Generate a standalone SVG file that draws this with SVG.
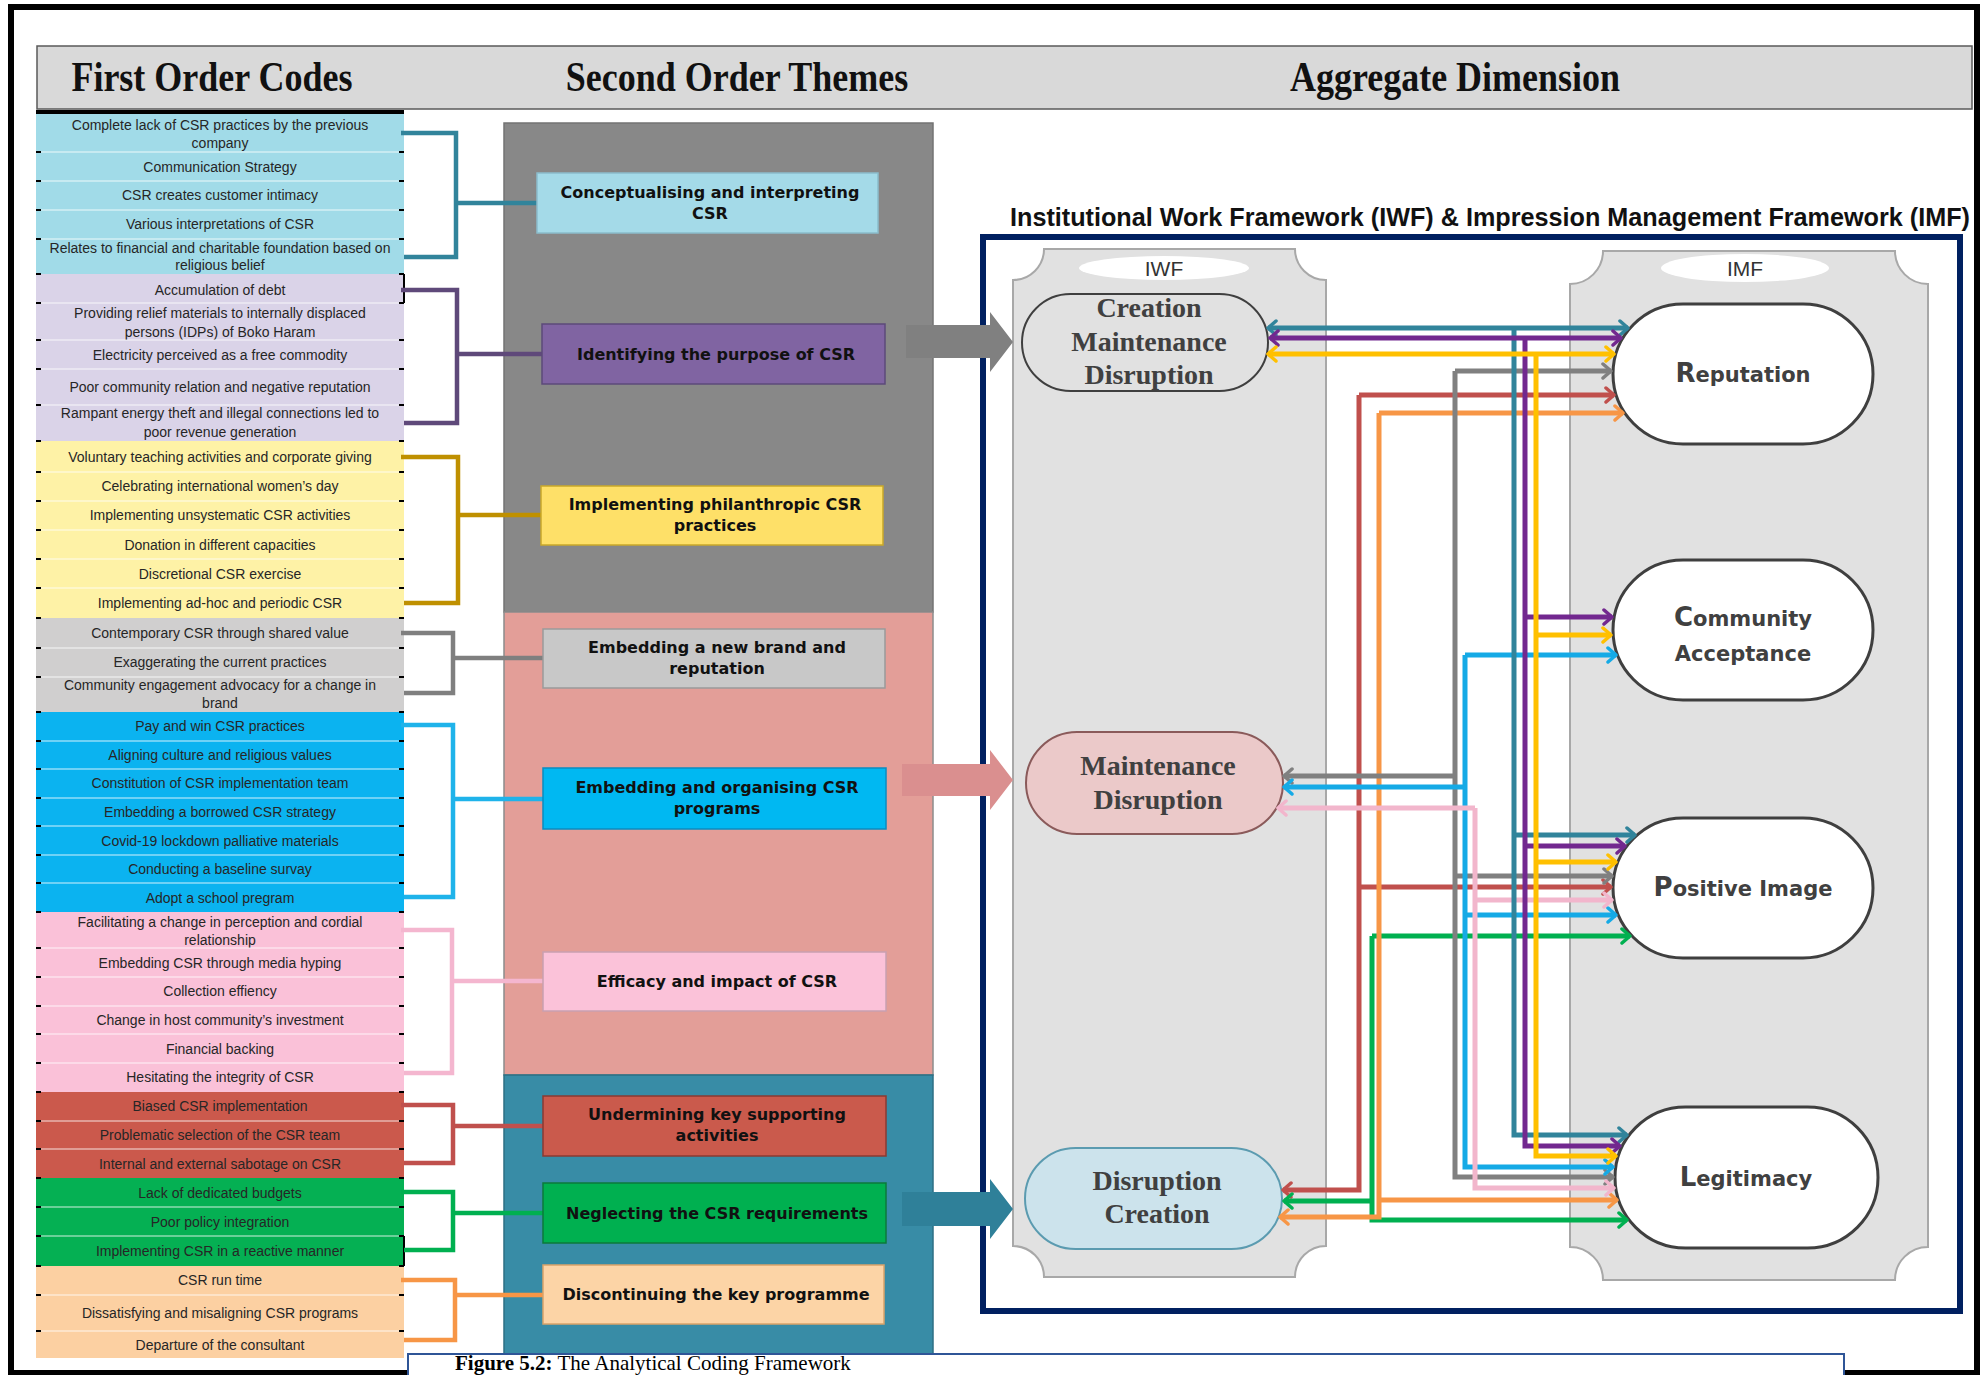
<svg xmlns="http://www.w3.org/2000/svg" width="1988" height="1375" viewBox="0 0 1988 1375">
<defs>
<style>
.fo{font-family:"Liberation Sans",Arial,sans-serif;font-size:14px;fill:#262626;text-anchor:middle}
.so{font-family:"DejaVu Sans",Verdana,sans-serif;font-size:16px;font-weight:bold;fill:#111;text-anchor:middle}
.hd{font-family:"Liberation Serif","Times New Roman",serif;font-size:36px;font-weight:bold;fill:#111;text-anchor:middle}
.iw{font-family:"Liberation Serif","Times New Roman",serif;font-size:28px;font-weight:bold;fill:#404040;text-anchor:middle}
.im{font-family:"DejaVu Sans",Verdana,sans-serif;font-size:21px;font-weight:bold;fill:#404040;text-anchor:middle}
.big{font-size:26px}
.lab{font-family:"Liberation Sans",Arial,sans-serif;font-size:21px;fill:#333;text-anchor:middle}
.br{fill:none;stroke-width:4.5}
.cn{fill:none;stroke-width:5}
.sep{stroke:#ffffff;stroke-opacity:0.55;stroke-width:1.5}
.tk{stroke:#000;stroke-width:2;fill:none}
.node2{stroke-width:1.5}
.imn{fill:#fff;stroke:#3f3f3f;stroke-width:3}
.pan{fill:#e1e1e1;stroke:#a8a8a8;stroke-width:2}
</style>
<marker id="m-teal" viewBox="0 0 12 18" refX="10" refY="9" markerWidth="12" markerHeight="18" markerUnits="userSpaceOnUse" orient="auto-start-reverse"><path d="M2,2 L10,9 L2,16" fill="none" stroke="#31849b" stroke-width="3.5" stroke-linecap="round" stroke-linejoin="round"/></marker>
<marker id="m-purple" viewBox="0 0 12 18" refX="10" refY="9" markerWidth="12" markerHeight="18" markerUnits="userSpaceOnUse" orient="auto-start-reverse"><path d="M2,2 L10,9 L2,16" fill="none" stroke="#72288f" stroke-width="3.5" stroke-linecap="round" stroke-linejoin="round"/></marker>
<marker id="m-yellow" viewBox="0 0 12 18" refX="10" refY="9" markerWidth="12" markerHeight="18" markerUnits="userSpaceOnUse" orient="auto-start-reverse"><path d="M2,2 L10,9 L2,16" fill="none" stroke="#ffc000" stroke-width="3.5" stroke-linecap="round" stroke-linejoin="round"/></marker>
<marker id="m-gray" viewBox="0 0 12 18" refX="10" refY="9" markerWidth="12" markerHeight="18" markerUnits="userSpaceOnUse" orient="auto-start-reverse"><path d="M2,2 L10,9 L2,16" fill="none" stroke="#808080" stroke-width="3.5" stroke-linecap="round" stroke-linejoin="round"/></marker>
<marker id="m-red" viewBox="0 0 12 18" refX="10" refY="9" markerWidth="12" markerHeight="18" markerUnits="userSpaceOnUse" orient="auto-start-reverse"><path d="M2,2 L10,9 L2,16" fill="none" stroke="#c0504d" stroke-width="3.5" stroke-linecap="round" stroke-linejoin="round"/></marker>
<marker id="m-orange" viewBox="0 0 12 18" refX="10" refY="9" markerWidth="12" markerHeight="18" markerUnits="userSpaceOnUse" orient="auto-start-reverse"><path d="M2,2 L10,9 L2,16" fill="none" stroke="#f79646" stroke-width="3.5" stroke-linecap="round" stroke-linejoin="round"/></marker>
<marker id="m-blue" viewBox="0 0 12 18" refX="10" refY="9" markerWidth="12" markerHeight="18" markerUnits="userSpaceOnUse" orient="auto-start-reverse"><path d="M2,2 L10,9 L2,16" fill="none" stroke="#15aae6" stroke-width="3.5" stroke-linecap="round" stroke-linejoin="round"/></marker>
<marker id="m-pink" viewBox="0 0 12 18" refX="10" refY="9" markerWidth="12" markerHeight="18" markerUnits="userSpaceOnUse" orient="auto-start-reverse"><path d="M2,2 L10,9 L2,16" fill="none" stroke="#f2b6cc" stroke-width="3.5" stroke-linecap="round" stroke-linejoin="round"/></marker>
<marker id="m-green" viewBox="0 0 12 18" refX="10" refY="9" markerWidth="12" markerHeight="18" markerUnits="userSpaceOnUse" orient="auto-start-reverse"><path d="M2,2 L10,9 L2,16" fill="none" stroke="#00b050" stroke-width="3.5" stroke-linecap="round" stroke-linejoin="round"/></marker>
</defs>

<rect x="0" y="0" width="1988" height="1375" fill="#ffffff"/>

<!-- header -->
<g id="header">
<rect x="37" y="46" width="1935" height="63" fill="#d9d9d9" stroke="#5a5a5a" stroke-width="1.5"/>
<g transform="translate(0,91) scale(1,1.15)">
<text class="hd" x="212" y="0">First Order Codes</text>
<text class="hd" x="737" y="0">Second Order Themes</text>
<text class="hd" x="1455" y="0">Aggregate Dimension</text>
</g>
</g>

<!-- first order codes -->
<g id="first-order">
<g id="fo-c1"><rect x="36" y="113" width="368" height="39" fill="#a1dbe8"/><text class="fo" x="220" y="130">Complete lack of CSR practices by the previous</text><text class="fo" x="220" y="148">company</text></g>
<g id="fo-c2"><rect x="36" y="152" width="368" height="29" fill="#a1dbe8"/><text class="fo" x="220" y="171.5">Communication Strategy</text></g>
<g id="fo-c3"><rect x="36" y="181" width="368" height="29" fill="#a1dbe8"/><text class="fo" x="220" y="200">CSR creates customer intimacy</text></g>
<g id="fo-c4"><rect x="36" y="210" width="368" height="29" fill="#a1dbe8"/><text class="fo" x="220" y="229">Various interpretations of CSR</text></g>
<g id="fo-c5"><rect x="36" y="239" width="368" height="35" fill="#a1dbe8"/><text class="fo" x="220" y="253">Relates to financial and charitable foundation based on</text><text class="fo" x="220" y="270">religious belief</text></g>

<g id="fo-p1"><rect x="36" y="274" width="368" height="29" fill="#dad3e8"/><text class="fo" x="220" y="295">Accumulation of debt</text></g>
<g id="fo-p2"><rect x="36" y="303" width="368" height="37" fill="#dad3e8"/><text class="fo" x="220" y="318">Providing relief materials to internally displaced</text><text class="fo" x="220" y="336.5">persons (IDPs) of Boko Haram</text></g>
<g id="fo-p3"><rect x="36" y="340" width="368" height="29" fill="#dad3e8"/><text class="fo" x="220" y="360">Electricity perceived as a free commodity</text></g>
<g id="fo-p4"><rect x="36" y="369" width="368" height="36" fill="#dad3e8"/><text class="fo" x="220" y="391.5">Poor community relation and negative reputation</text></g>
<g id="fo-p5"><rect x="36" y="405" width="368" height="36" fill="#dad3e8"/><text class="fo" x="220" y="418">Rampant energy theft and illegal connections led to</text><text class="fo" x="220" y="436.5">poor revenue generation</text></g>

<g id="fo-y1"><rect x="36" y="441" width="368" height="31" fill="#fef2a6"/><text class="fo" x="220" y="461.5">Voluntary teaching activities and corporate giving</text></g>
<g id="fo-y2"><rect x="36" y="472" width="368" height="29" fill="#fef2a6"/><text class="fo" x="220" y="491">Celebrating international women’s day</text></g>
<g id="fo-y3"><rect x="36" y="501" width="368" height="29" fill="#fef2a6"/><text class="fo" x="220" y="520">Implementing unsystematic CSR activities</text></g>
<g id="fo-y4"><rect x="36" y="530" width="368" height="29" fill="#fef2a6"/><text class="fo" x="220" y="549.5">Donation in different capacities</text></g>
<g id="fo-y5"><rect x="36" y="559" width="368" height="29" fill="#fef2a6"/><text class="fo" x="220" y="579">Discretional CSR exercise</text></g>
<g id="fo-y6"><rect x="36" y="588" width="368" height="30" fill="#fef2a6"/><text class="fo" x="220" y="608">Implementing ad-hoc and periodic CSR</text></g>

<g id="fo-g1"><rect x="36" y="618" width="368" height="30" fill="#d0cfcf"/><text class="fo" x="220" y="637.5">Contemporary CSR through shared value</text></g>
<g id="fo-g2"><rect x="36" y="648" width="368" height="29" fill="#d0cfcf"/><text class="fo" x="220" y="666.5">Exaggerating the current practices</text></g>
<g id="fo-g3"><rect x="36" y="677" width="368" height="35" fill="#d0cfcf"/><text class="fo" x="220" y="690">Community engagement advocacy for a change in</text><text class="fo" x="220" y="707.5">brand</text></g>

<g id="fo-b1"><rect x="36" y="712" width="368" height="29" fill="#0bb3f0"/><text class="fo" x="220" y="731">Pay and win CSR practices</text></g>
<g id="fo-b2"><rect x="36" y="741" width="368" height="28" fill="#0bb3f0"/><text class="fo" x="220" y="760">Aligning culture and religious values</text></g>
<g id="fo-b3"><rect x="36" y="769" width="368" height="29" fill="#0bb3f0"/><text class="fo" x="220" y="788">Constitution of CSR implementation team</text></g>
<g id="fo-b4"><rect x="36" y="798" width="368" height="28" fill="#0bb3f0"/><text class="fo" x="220" y="817">Embedding a borrowed CSR strategy</text></g>
<g id="fo-b5"><rect x="36" y="826" width="368" height="29" fill="#0bb3f0"/><text class="fo" x="220" y="845.5">Covid-19 lockdown palliative materials</text></g>
<g id="fo-b6"><rect x="36" y="855" width="368" height="28" fill="#0bb3f0"/><text class="fo" x="220" y="874">Conducting a baseline survay</text></g>
<g id="fo-b7"><rect x="36" y="883" width="368" height="29" fill="#0bb3f0"/><text class="fo" x="220" y="902.5">Adopt a school pregram</text></g>

<g id="fo-k1"><rect x="36" y="912" width="368" height="36" fill="#fac1d8"/><text class="fo" x="220" y="926.5">Facilitating a change in perception and cordial</text><text class="fo" x="220" y="945">relationship</text></g>
<g id="fo-k2"><rect x="36" y="948" width="368" height="29" fill="#fac1d8"/><text class="fo" x="220" y="967.5">Embedding CSR through media hyping</text></g>
<g id="fo-k3"><rect x="36" y="977" width="368" height="29" fill="#fac1d8"/><text class="fo" x="220" y="996">Collection effiency</text></g>
<g id="fo-k4"><rect x="36" y="1006" width="368" height="28" fill="#fac1d8"/><text class="fo" x="220" y="1025">Change in host community’s investment</text></g>
<g id="fo-k5"><rect x="36" y="1034" width="368" height="29" fill="#fac1d8"/><text class="fo" x="220" y="1054">Financial backing</text></g>
<g id="fo-k6"><rect x="36" y="1063" width="368" height="29" fill="#fac1d8"/><text class="fo" x="220" y="1081.5">Hesitating the integrity of CSR</text></g>

<g id="fo-r1"><rect x="36" y="1092" width="368" height="29" fill="#cb594c"/><text class="fo" x="220" y="1111">Biased CSR implementation</text></g>
<g id="fo-r2"><rect x="36" y="1121" width="368" height="28" fill="#cb594c"/><text class="fo" x="220" y="1140">Problematic selection of the CSR team</text></g>
<g id="fo-r3"><rect x="36" y="1149" width="368" height="29" fill="#cb594c"/><text class="fo" x="220" y="1169">Internal and external sabotage on CSR</text></g>

<g id="fo-n1"><rect x="36" y="1178" width="368" height="29" fill="#05b053"/><text class="fo" x="220" y="1197.5">Lack of dedicated budgets</text></g>
<g id="fo-n2"><rect x="36" y="1207" width="368" height="29" fill="#05b053"/><text class="fo" x="220" y="1226.5">Poor policy integration</text></g>
<g id="fo-n3"><rect x="36" y="1236" width="368" height="30" fill="#05b053"/><text class="fo" x="220" y="1256">Implementing CSR in a reactive manner</text></g>

<g id="fo-o1"><rect x="36" y="1266" width="368" height="29" fill="#fcd0a2"/><text class="fo" x="220" y="1285">CSR run time</text></g>
<g id="fo-o2"><rect x="36" y="1295" width="368" height="36" fill="#fcd0a2"/><text class="fo" x="220" y="1317.5">Dissatisfying and misaligning CSR programs</text></g>
<g id="fo-o3"><rect x="36" y="1331" width="368" height="27" fill="#fcd0a2"/><text class="fo" x="220" y="1350">Departure of the consultant</text></g>

<path class="sep" d="M36,152H404M36,181H404M36,210H404M36,239H404M36,303H404M36,340H404M36,369H404M36,405H404M36,472H404M36,501H404M36,530H404M36,559H404M36,588H404M36,648H404M36,677H404M36,741H404M36,769H404M36,798H404M36,826H404M36,855H404M36,883H404M36,948H404M36,977H404M36,1006H404M36,1034H404M36,1063H404M36,1121H404M36,1149H404M36,1207H404M36,1236H404M36,1295H404M36,1331H404"/>
<path class="tk" d="M36,152h5M399,152h5M36,181h5M399,181h5M36,210h5M399,210h5M36,239h5M399,239h5M36,274h5M399,274h5M36,303h5M399,303h5M36,340h5M399,340h5M36,369h5M399,369h5M36,405h5M399,405h5M36,441h5M399,441h5M36,472h5M399,472h5M36,501h5M399,501h5M36,530h5M399,530h5M36,559h5M399,559h5M36,588h5M399,588h5M36,618h5M399,618h5M36,648h5M399,648h5M36,677h5M399,677h5M36,712h5M399,712h5M36,741h5M399,741h5M36,769h5M399,769h5M36,798h5M399,798h5M36,826h5M399,826h5M36,855h5M399,855h5M36,883h5M399,883h5M36,912h5M399,912h5M36,948h5M399,948h5M36,977h5M399,977h5M36,1006h5M399,1006h5M36,1034h5M399,1034h5M36,1063h5M399,1063h5M36,1092h5M399,1092h5M36,1121h5M399,1121h5M36,1149h5M399,1149h5M36,1178h5M399,1178h5M36,1207h5M399,1207h5M36,1236h5M399,1236h5M36,1266h5M399,1266h5M36,1295h5M399,1295h5M36,1331h5M399,1331h5M404,274V303M404,1236V1266"/>
<line x1="36" y1="112" x2="404" y2="112" stroke="#000" stroke-width="4"/>
</g>

<!-- second order panel -->
<g id="second-order-panel">
<rect x="504" y="123" width="429" height="489" fill="#888888" stroke="#737373" stroke-width="1.5"/>
<rect x="504" y="612" width="429" height="463" fill="#e39e98" stroke="#8c8c8c" stroke-width="1.5"/>
<rect x="504" y="1075" width="429" height="310" fill="#388ca6" stroke="#2d6f84" stroke-width="1.5"/>
</g>

<!-- bracket connectors -->
<g id="brackets">
<path class="br" stroke="#31849b" d="M401,133H456V257H404M456,203H537"/>
<path class="br" stroke="#5f497a" d="M401,290H457V423H404M457,354H542"/>
<path class="br" stroke="#bf9000" d="M401,457H458V603H404M458,515H541"/>
<path class="br" stroke="#7f7f7f" d="M401,633H453V693H404M453,658H543"/>
<path class="br" stroke="#1fb3ea" d="M401,725H453V897H404M453,799H543"/>
<path class="br" stroke="#f4b6cf" d="M401,930H452V1073H404M452,981H543"/>
<path class="br" stroke="#c0504d" d="M401,1105H453V1163H404M453,1126H543"/>
<path class="br" stroke="#00b050" d="M401,1192H453V1250H404M453,1213H543"/>
<path class="br" stroke="#f79646" d="M401,1280H455V1340H404M455,1295H543"/>
</g>

<!-- second order theme boxes -->
<g id="so-1"><rect class="node2" x="537" y="173" width="341" height="60" fill="#a4dae8" stroke="#8abccb"/><text class="so" x="710" y="198">Conceptualising and interpreting</text><text class="so" x="710" y="219">CSR</text></g>
<g id="so-2"><rect class="node2" x="542" y="324" width="343" height="60" fill="#8064a2" stroke="#5c4a7a"/><text class="so" x="716" y="360">Identifying the purpose of CSR</text></g>
<g id="so-3"><rect class="node2" x="541" y="486" width="342" height="59" fill="#fee068" stroke="#c9a82a"/><text class="so" x="715" y="510">Implementing philanthropic CSR</text><text class="so" x="715" y="531">practices</text></g>
<g id="so-4"><rect class="node2" x="543" y="629" width="342" height="59" fill="#c8c8c8" stroke="#9a9a9a"/><text class="so" x="717" y="653">Embedding a new brand and</text><text class="so" x="717" y="674">reputation</text></g>
<g id="so-5"><rect class="node2" x="543" y="768" width="343" height="61" fill="#00b8f2" stroke="#0a8cc0"/><text class="so" x="717" y="793">Embedding and organising CSR</text><text class="so" x="717" y="814">programs</text></g>
<g id="so-6"><rect class="node2" x="543" y="952" width="343" height="59" fill="#fbc2d9" stroke="#c9a0b0"/><text class="so" x="717" y="987">Efficacy and impact of CSR</text></g>
<g id="so-7"><rect class="node2" x="543" y="1096" width="343" height="60" fill="#ca5a4c" stroke="#8a3a32"/><text class="so" x="717" y="1120">Undermining key supporting</text><text class="so" x="717" y="1141">activities</text></g>
<g id="so-8"><rect class="node2" x="543" y="1183" width="343" height="60" fill="#00b050" stroke="#0b7a3b"/><text class="so" x="717" y="1219">Neglecting the CSR requirements</text></g>
<g id="so-9"><rect class="node2" x="543" y="1265" width="341" height="59" fill="#fcd4a6" stroke="#d9a36a"/><text class="so" x="716" y="1300">Discontinuing the key programme</text></g>

<!-- aggregate dimension -->
<g id="framework-title">
<text x="1010" y="226" font-family="'Liberation Sans',Arial,sans-serif" font-size="25" font-weight="bold" fill="#111" textLength="960" lengthAdjust="spacingAndGlyphs">Institutional Work Framework (IWF) &amp; Impression Management Framework (IMF)</text>
</g>
<g id="framework-box">
<rect x="983" y="237" width="977" height="1074" fill="#ffffff" stroke="#002060" stroke-width="6"/>
</g>
<g id="iwf-panel">
<path class="pan" d="M1044,249H1295A31,31 0 0 0 1326,280V1246A31,31 0 0 0 1295,1277H1044A31,31 0 0 0 1013,1246V280A31,31 0 0 0 1044,249Z"/>
<ellipse cx="1164" cy="268" rx="85" ry="12" fill="#ffffff"/>
<text class="lab" x="1164" y="276">IWF</text>
</g>
<g id="imf-panel">
<path class="pan" d="M1603,251H1895A33,33 0 0 0 1928,284V1247A33,33 0 0 0 1895,1280H1603A33,33 0 0 0 1570,1247V284A33,33 0 0 0 1603,251Z"/>
<ellipse cx="1745" cy="268" rx="84" ry="14" fill="#ffffff"/>
<text class="lab" x="1745" y="276">IMF</text>
</g>

<!-- block arrows from themes to IWF -->
<g id="block-arrows">
<polygon points="906,325 990,325 990,312 1013,342 990,372 990,358 906,358" fill="#808080"/>
<polygon points="902,764 990,764 990,750 1013,780 990,810 990,796 902,796" fill="#da8f8f"/>
<polygon points="902,1192 990,1192 990,1179 1013,1209 990,1239 990,1226 902,1226" fill="#2f8099"/>
</g>

<!-- IWF nodes -->
<g id="iwf-cmd"><rect x="1022" y="294" width="246" height="97" rx="48.5" fill="#e1e1e1" stroke="#3f3f3f" stroke-width="2"/><text class="iw" x="1149" y="317">Creation</text><text class="iw" x="1149" y="351">Maintenance</text><text class="iw" x="1149" y="384">Disruption</text></g>
<g id="iwf-md"><rect x="1026" y="732" width="257" height="102" rx="51" fill="#ebc9c9" stroke="#8a5a5a" stroke-width="2"/><text class="iw" x="1158" y="775">Maintenance</text><text class="iw" x="1158" y="809">Disruption</text></g>
<g id="iwf-dc"><rect x="1025" y="1148" width="257" height="101" rx="50.5" fill="#cce3ec" stroke="#5b9bb0" stroke-width="2"/><text class="iw" x="1157" y="1190">Disruption</text><text class="iw" x="1157" y="1223">Creation</text></g>

<!-- IMF nodes -->
<g id="imf-rep"><rect class="imn" x="1613" y="304" width="260" height="140" rx="70"/><text class="im" x="1743" y="382"><tspan class="big">R</tspan>eputation</text></g>
<g id="imf-com"><rect class="imn" x="1613" y="560" width="260" height="140" rx="70"/><text class="im" x="1743" y="626"><tspan class="big">C</tspan>ommunity</text><text class="im" x="1743" y="661">Acceptance</text></g>
<g id="imf-pos"><rect class="imn" x="1613" y="818" width="260" height="140" rx="70"/><text class="im" x="1743" y="896"><tspan class="big">P</tspan>ositive Image</text></g>
<g id="imf-leg"><rect class="imn" x="1615" y="1107" width="263" height="141" rx="70.5"/><text class="im" x="1746" y="1186"><tspan class="big">L</tspan>egitimacy</text></g>

<!-- connectors -->
<g id="connectors">
<g stroke="#c0504d" class="cn"><path d="M1359,395H1614" marker-end="url(#m-red)"/><path d="M1359,395V1190H1283" marker-end="url(#m-red)"/><path d="M1359,887H1611" marker-end="url(#m-red)"/></g>
<g stroke="#00b050" class="cn"><path d="M1372,936H1630" marker-end="url(#m-green)"/><path d="M1372,936V1220H1627" marker-end="url(#m-green)"/><path d="M1372,1201H1284" marker-end="url(#m-green)"/></g>
<g stroke="#f79646" class="cn"><path d="M1379,413H1623" marker-end="url(#m-orange)"/><path d="M1379,413V1217H1280" marker-end="url(#m-orange)"/><path d="M1379,1200H1617" marker-end="url(#m-orange)"/></g>
<g stroke="#808080" class="cn"><path d="M1455,371H1611" marker-end="url(#m-gray)"/><path d="M1455,371V1177H1613" marker-end="url(#m-gray)"/><path d="M1455,776H1284" marker-end="url(#m-gray)"/><path d="M1455,876H1612" marker-end="url(#m-gray)"/></g>
<g stroke="#15aae6" class="cn"><path d="M1465,655H1616" marker-end="url(#m-blue)"/><path d="M1465,655V1167H1613" marker-end="url(#m-blue)"/><path d="M1465,787H1284" marker-end="url(#m-blue)"/><path d="M1465,915H1616" marker-end="url(#m-blue)"/></g>
<g stroke="#f2b6cc" class="cn"><path d="M1475,808V1188H1614" marker-end="url(#m-pink)"/><path d="M1475,808H1278" marker-end="url(#m-pink)"/><path d="M1475,900H1612" marker-end="url(#m-pink)"/></g>
<g stroke="#31849b" class="cn"><path d="M1268,328H1628" marker-start="url(#m-teal)" marker-end="url(#m-teal)"/><path d="M1514,328V1135H1627" marker-end="url(#m-teal)"/><path d="M1514,835H1635" marker-end="url(#m-teal)"/></g>
<g stroke="#72288f" class="cn"><path d="M1270,338H1621" marker-start="url(#m-purple)" marker-end="url(#m-purple)"/><path d="M1525,338V1146H1620" marker-end="url(#m-purple)"/><path d="M1525,617H1612" marker-end="url(#m-purple)"/><path d="M1525,846H1625" marker-end="url(#m-purple)"/></g>
<g stroke="#ffc000" class="cn"><path d="M1268,354H1614" marker-start="url(#m-yellow)" marker-end="url(#m-yellow)"/><path d="M1536,354V1156H1616" marker-end="url(#m-yellow)"/><path d="M1536,635H1611" marker-end="url(#m-yellow)"/><path d="M1536,862H1616" marker-end="url(#m-yellow)"/></g>
</g>

<!-- outer frame -->
<rect x="11" y="7" width="1966" height="1366" fill="none" stroke="#000" stroke-width="6"/>

<!-- caption -->
<g id="caption">
<rect x="408" y="1354" width="1436" height="40" fill="#ffffff" stroke="#2f5597" stroke-width="2"/>
<text x="455" y="1370" font-family="'Liberation Serif','Times New Roman',serif" font-size="21" fill="#000"><tspan font-weight="bold">Figure 5.2:</tspan> The Analytical Coding Framework</text>
</g>
</svg>
